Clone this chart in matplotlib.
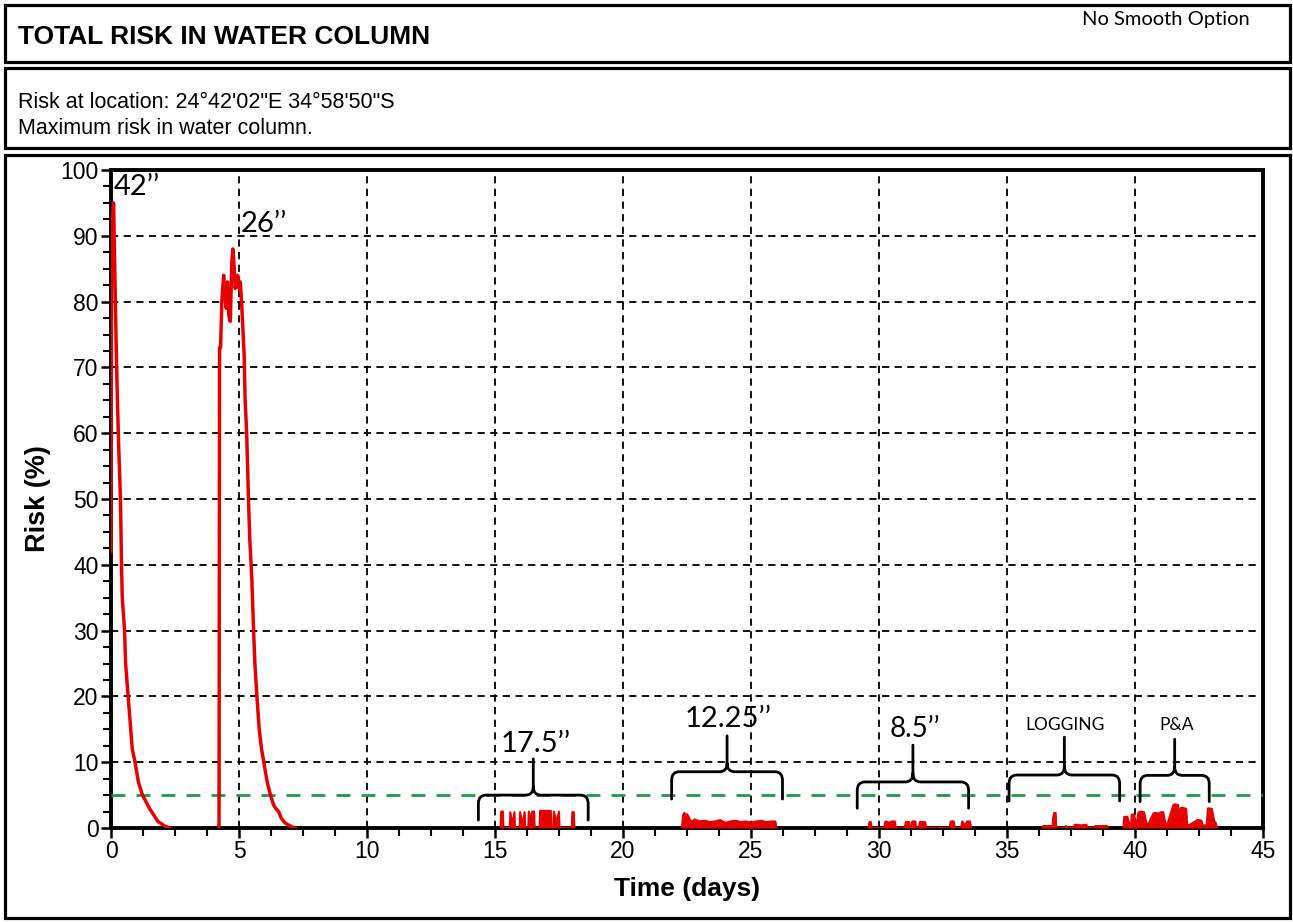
import matplotlib
matplotlib.use('Agg')
import matplotlib.pyplot as plt
from matplotlib.patches import Rectangle, PathPatch
from matplotlib.path import Path
import numpy as np

# ---- data ----
# first release (42'')
peak1_t = [0.0, 0.02, 0.05, 0.1, 0.13, 0.17, 0.21, 0.25, 0.3, 0.37, 0.41, 0.44, 0.53,
           0.57, 0.67, 0.77, 0.83, 0.94, 1.07, 1.23, 1.5, 1.83, 2.1, 2.3]
peak1_v = [42, 85, 92, 95, 89, 80, 72, 65, 58, 50, 40, 35, 30,
           25, 20, 15, 12, 10, 7, 5, 3, 1, 0.3, 0]

# second release (26'')
peak2_t = [4.22, 4.24, 4.28, 4.33, 4.4, 4.45, 4.5, 4.55, 4.6, 4.66, 4.72, 4.76, 4.8,
           4.85, 4.9, 4.95, 5.0, 5.05, 5.1, 5.15, 5.2, 5.24, 5.3, 5.37, 5.42, 5.5,
           5.57, 5.62, 5.7, 5.79, 5.88, 5.97, 6.1, 6.23, 6.35, 6.43, 6.55, 6.65,
           6.79, 7.0, 7.18]
peak2_v = [0, 73, 73, 80, 84, 81, 79, 83, 78, 77, 86, 88, 86,
           82, 83, 84, 82, 83, 80, 76, 72, 65, 60, 50, 44, 38,
           30, 25, 20, 15, 12, 10, 7, 5, 3.5, 3, 2.5, 1.5,
           0.8, 0.3, 0]

# low-level bursts (drilled sections)
burst1_t = [15.22, 15.24, 15.31, 15.33, 15.58, 15.6, 15.68, 15.76, 15.78, 15.96, 15.98,
            16.07, 16.16, 16.18, 16.3, 16.32, 16.4, 16.45, 16.53, 16.55, 16.74, 16.76,
            17.18, 17.2, 17.28, 17.3, 17.4, 17.5, 17.52, 18.0, 18.02, 18.08, 18.1]
burst1_v = [0, 2.5, 2.5, 0, 0, 2.4, 0.5, 2.4, 0, 0, 2.4,
            0.6, 2.4, 0, 0, 2.5, 1.2, 2.5, 2.5, 0, 0, 2.6,
            2.6, 0, 0, 2.5, 1.0, 2.5, 0, 0, 2.4, 2.4, 0]

burst2_t = [22.3, 22.35, 22.4, 22.45, 22.5, 22.55, 22.62, 22.7, 22.8, 23.0, 23.2, 23.4,
            23.6, 23.8, 24.0, 24.2, 24.4, 24.6, 24.8, 25.0, 25.2, 25.4, 25.6, 25.8,
            25.95, 26.0]
burst2_v = [0, 2.0, 2.3, 1.6, 2.1, 1.8, 1.2, 1.0, 1.3, 1.0, 1.1, 0.9,
            1.0, 1.2, 0.8, 1.0, 1.1, 0.9, 1.0, 0.8, 1.0, 1.1, 0.9, 1.0,
            1.0, 0]

burst3_t = [29.58, 29.63, 29.68, 29.72, 30.2, 30.25, 30.4, 30.5, 30.62, 30.66,
            31.0, 31.05, 31.18, 31.2, 31.25, 31.3, 31.42, 31.45, 31.55, 31.6, 31.8, 31.85,
            32.76, 32.8, 32.92, 32.96, 33.2, 33.25, 33.35, 33.45, 33.55, 33.6]
burst3_v = [0, 0.9, 0.9, 0, 0, 1.0, 0.8, 1.0, 1.0, 0,
            0, 0.9, 0.9, 0, 0, 1.0, 1.0, 0, 0, 0.9, 0.9, 0,
            0, 1.0, 1.0, 0, 0, 1.0, 0.4, 1.0, 1.0, 0]

burst4_t = [36.38, 36.42, 36.78, 36.8, 36.85, 36.9, 36.92, 37.24, 37.3, 37.42,
            37.6, 37.65, 37.9, 38.1, 38.16, 38.4, 38.45, 38.9, 38.95]
burst4_v = [0, 0.3, 0.3, 1.5, 2.3, 2.3, 0, 0, 0.3, 0,
            0, 0.5, 0.4, 0.5, 0, 0, 0.3, 0.3, 0]

burst5_t = [39.55, 39.58, 39.7, 39.8, 39.85, 39.87, 39.95, 40.07, 40.13, 40.2, 40.35,
            40.46, 40.5, 40.72, 40.78, 40.95, 41.0, 41.1, 41.2, 41.25, 41.5, 41.55,
            41.68, 41.72, 41.78, 41.85, 42.0, 42.04, 42.1, 42.44, 42.5, 42.6, 42.64,
            42.8, 42.85, 43.0, 43.1, 43.15, 43.2]
burst5_v = [0, 1.7, 1.7, 0.4, 0.3, 2.0, 2.1, 0.4, 2.3, 2.5, 2.4,
            0.5, 0.4, 2.2, 2.3, 2.2, 2.4, 2.4, 0.5, 0.4, 3.5, 3.6,
            3.5, 0.5, 3.0, 3.1, 2.9, 0.5, 0.4, 1.2, 1.2, 1.1, 0.4,
            0.4, 3.0, 2.9, 1.0, 0.8, 0]

bursts = [(burst1_t, burst1_v), (burst2_t, burst2_v), (burst3_t, burst3_v),
          (burst4_t, burst4_v), (burst5_t, burst5_v)]

threshold = 5

# braces: (left, right, bar level, tip level, stem top, label, label x, label y, size)
braces = [
    (14.35, 18.64, 5.0, 1.2, 10.5, '17.5\u2019\u2019', 16.6, 12.8, 21),
    (21.9, 26.23, 8.55, 4.4, 14.0, '12.25\u2019\u2019', 24.1, 16.6, 21),
    (29.15, 33.5, 7.0, 3.0, 12.6, '8.5\u2019\u2019', 31.4, 15.1, 20),
    (35.08, 39.4, 8.05, 4.1, 13.8, 'LOGGING', 37.27, 15.7, 12.5),
    (40.2, 42.9, 8.0, 4.0, 13.5, 'P&A', 41.64, 15.7, 12.5),
]

W, H = 1293, 923
fig = plt.figure(figsize=(W / 100, H / 100), dpi=100)


def fy(px):
    return 1 - px / H


# frame boxes
for top, bot in [(5, 62), (68, 148), (155, 918)]:
    fig.add_artist(Rectangle((5 / W, fy(bot)), 1285 / W, (bot - top) / H,
                             transform=fig.transFigure, fill=False,
                             lw=2.3, edgecolor='black'))

fig.text(18 / W, fy(37), 'TOTAL RISK IN WATER COLUMN', fontsize=19, fontweight='bold',
         family='Liberation Sans', va='center', ha='left')
fig.text(1250 / W, fy(19), 'No Smooth Option', fontsize=14.5, family='Lato',
         va='center', ha='right')
fig.text(18 / W, fy(102), 'Risk at location: 24\u00b042\'02"E 34\u00b058\'50"S', fontsize=15.5,
         family='Liberation Sans', va='center', ha='left')
fig.text(18 / W, fy(128), 'Maximum risk in water column.', fontsize=15.5,
         family='Liberation Sans', va='center', ha='left')

fig.text(687 / W, fy(896), 'Time (days)', fontsize=19, fontweight='bold',
         family='Liberation Sans', ha='center', va='baseline')
fig.text(38 / W, fy(499), 'Risk (%)', fontsize=19.5, fontweight='bold',
         family='Liberation Sans', ha='center', va='center', rotation=90)

ax = fig.add_axes([111 / W, fy(828), (1263 - 111) / W, (828 - 170) / H])

red = '#e60000'
ax.plot(peak1_t, peak1_v, color=red, lw=2.5, zorder=4)
ax.plot(peak2_t, peak2_v, color=red, lw=2.5, zorder=4)
for bt, bv in bursts:
    ax.fill_between(bt, bv, 0, color=red, lw=0, zorder=4)
    ax.plot(bt, bv, color=red, lw=1.5, zorder=4)

ax.axhline(threshold, color='#1f9a4a', lw=2, ls=(0, (5, 4)), zorder=3)

for x0, x1, yb, yt, ym, lab, lx, ly, fs in braces:
    xm = (x0 + x1) / 2
    rx, ry = 0.3, 1.3
    verts = [(x0, yt), (x0, yb - ry), (x0, yb), (x0 + rx, yb), (xm - rx, yb),
             (xm, yb), (xm, yb + ry), (xm, ym),
             (xm, yb + ry), (xm, yb), (xm + rx, yb), (x1 - rx, yb),
             (x1, yb), (x1, yb - ry), (x1, yt)]
    codes = [Path.MOVETO, Path.LINETO, Path.CURVE3, Path.CURVE3, Path.LINETO,
             Path.CURVE3, Path.CURVE3, Path.LINETO,
             Path.MOVETO, Path.CURVE3, Path.CURVE3, Path.LINETO,
             Path.CURVE3, Path.CURVE3, Path.LINETO]
    ax.add_patch(PathPatch(Path(verts, codes), fill=False, lw=2, edgecolor='black',
                           zorder=5, capstyle='round', joinstyle='round'))
    ax.text(lx, ly, lab, fontsize=fs, family='Lato', ha='center', va='center', zorder=6)

ax.text(0.12, 97.4, '42\u2019\u2019', fontsize=21, family='Lato', ha='left', va='center')
ax.text(5.05, 91.8, '26\u2019\u2019', fontsize=21, family='Lato', ha='left', va='center')

ax.set_xlim(0, 45)
ax.set_ylim(0, 100)
ax.set_xticks(np.arange(0, 46, 5))
ax.set_yticks(np.arange(0, 101, 10))
ax.set_xticks(np.arange(0, 45.1, 1.25), minor=True)
ax.set_yticks(np.arange(0, 100.1, 2.5), minor=True)
ax.grid(True, which='major', color='black', lw=1.3, ls=(0, (4, 3)))
ax.set_axisbelow(True)

for lab in ax.get_xticklabels() + ax.get_yticklabels():
    lab.set_family('Liberation Sans')
    lab.set_fontsize(16.5)
ax.tick_params(which='major', direction='out', length=7, width=1.8, pad=2)
ax.tick_params(which='minor', direction='out', length=6, width=1.5)
for s in ax.spines.values():
    s.set_linewidth(2.8)

fig.savefig('out.png', dpi=100)
